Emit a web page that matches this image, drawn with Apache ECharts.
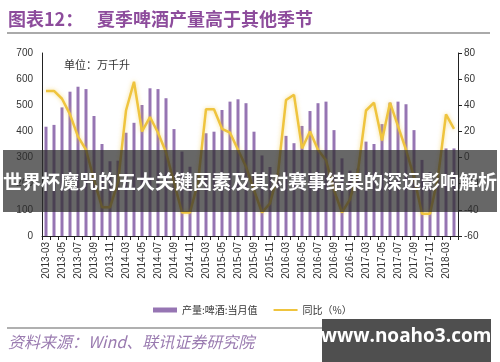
<!DOCTYPE html>
<html><head><meta charset="utf-8">
<script src="https://cdn.jsdelivr.net/npm/echarts@6/dist/echarts.min.js"></script>
<style>html,body{margin:0;padding:0;background:#fff}#c{width:500px;height:362px}</style>
</head><body><div id="c"></div>
<script>
var categories = [
 '2013-03','2013-04','2013-05','2013-06','2013-07','2013-08','2013-09','2013-10','2013-11','2013-12',
 '2014-03','2014-04','2014-05','2014-06','2014-07','2014-08','2014-09','2014-10','2014-11','2014-12',
 '2015-03','2015-04','2015-05','2015-06','2015-07','2015-08','2015-09','2015-10','2015-11','2015-12',
 '2016-03','2016-04','2016-05','2016-06','2016-07','2016-08','2016-09','2016-10','2016-11','2016-12',
 '2017-03','2017-04','2017-05','2017-06','2017-07','2017-08','2017-09','2017-10','2017-11','2017-12',
 '2018-03','2018-04'];
var production = [
 418,425,492,552,571,562,459,352,286,288,
 395,433,501,565,562,527,409,323,265,240,
 393,399,482,514,523,508,399,308,264,241,
 383,355,421,478,508,514,405,297,250,258,
 361,352,428,510,514,504,405,291,245,232,
 335,335];
var yoy = [
 51,51,45,33,16,6,-17,-38,-38,-19,
 36,58,20,31,19,4,-19,-42,-42,-19,
 37,37,22,19,6,-7,-25,-42,-35,-12,
 44,48,7,20,6,-2,-25,-42,-32,-10,
 36,42,13,42,24,6,-15,-43,-43,-15,
 33,22];
var leftTicks = {min:0, max:700, interval:100};
var rightTicks = {min:-60, max:80, interval:20};
var seriesNames = ['产量:啤酒:当月值','同比（%）'];

var chart = echarts.init(document.getElementById('c'), null, {renderer:'canvas'});
var axisFont = {color:'#333', fontSize:10, fontFamily:'Liberation Sans, Noto Sans, sans-serif'};
chart.setOption({
  animation:false,
  grid:{left:42, right:42, top:53, bottom:126, containLabel:false},
  legend:{
    left:148, top:300, itemGap:16, itemWidth:24, itemHeight:5,
    textStyle:{color:'#333', fontSize:10, fontFamily:'Noto Sans CJK SC'},
    data:[
      {name:seriesNames[0], icon:'rect'},
      {name:seriesNames[1], icon:'path://M0,0 L24,0 L24,2 L0,2 Z'}
    ]
  },
  xAxis:{
    type:'category', data:categories, boundaryGap:true,
    axisLine:{lineStyle:{color:'#222', width:1}},
    axisTick:{show:true, interval:0, length:4, lineStyle:{color:'#222'}},
    axisLabel:Object.assign({interval:1, rotate:90, margin:6}, axisFont),
    splitLine:{show:false}
  },
  yAxis:[
    {type:'value', position:'left', min:leftTicks.min, max:leftTicks.max, interval:leftTicks.interval,
     axisLine:{show:true, lineStyle:{color:'#222'}}, axisTick:{show:false},
     axisLabel:Object.assign({margin:9}, axisFont), splitLine:{show:false}},
    {type:'value', position:'right', min:rightTicks.min, max:rightTicks.max, interval:rightTicks.interval,
     axisLine:{show:true, lineStyle:{color:'#222'}}, axisTick:{show:true, length:4, lineStyle:{color:'#222'}},
     axisLabel:Object.assign({margin:6}, axisFont), splitLine:{show:false}}
  ],
  series:[
    {name:seriesNames[0], type:'bar', data:production, yAxisIndex:0, barWidth:3,
     itemStyle:{color:'#9675b3'}},
    {name:seriesNames[1], type:'line', data:yoy, yAxisIndex:1, symbol:'none', z:5,
     lineStyle:{color:'#efc43e', width:2.5, shadowColor:'rgba(240,200,70,0.6)', shadowBlur:4},
     itemStyle:{color:'#efc43e'}}
  ],
  graphic:[
    {type:'text', left:8, top:10, style:{text:'图表12：', fill:'#8d4c9c', font:'bold 18px "Noto Sans CJK SC"'}},
    {type:'text', left:97, top:10, style:{text:'夏季啤酒产量高于其他季节', fill:'#8d4c9c', font:'bold 18px "Noto Sans CJK SC"'}},
    {type:'line', shape:{x1:7, y1:33, x2:490, y2:33}, style:{stroke:'#aaaaaa', lineWidth:2}},
    {type:'text', left:64, top:59, style:{text:'单位：万千升', fill:'#333', font:'11px "Noto Sans CJK SC"'}},
    {type:'line', shape:{x1:7, y1:328, x2:490, y2:328}, style:{stroke:'#b0b0b0', lineWidth:2}},
    {type:'text', left:8, top:334, style:{text:'资料来源：Wind、联讯证券研究院', fill:'#9a7bb0', font:'italic 16px "Noto Sans CJK SC"'}},
    {type:'rect', shape:{x:3, y:150, width:494, height:62}, style:{fill:'rgba(45,45,45,0.72)'}, z:100},
    {type:'text', x:250, y:182, z:101, style:{text:'世界杯魔咒的五大关键因素及其对赛事结果的深远影响解析', fill:'#fff', font:'bold 19px "Noto Sans CJK SC"', textAlign:'center', textVerticalAlign:'middle'}},
    {type:'rect', shape:{x:322, y:319, width:169, height:43}, style:{fill:'#4f4f4f'}, z:100},
    {type:'text', x:406, y:337, z:101, style:{text:'www.noaho3.com', fill:'#fff', font:'bold 19px "Open Sans"', textAlign:'center', textVerticalAlign:'middle'}}
  ]
});
</script></body></html>
